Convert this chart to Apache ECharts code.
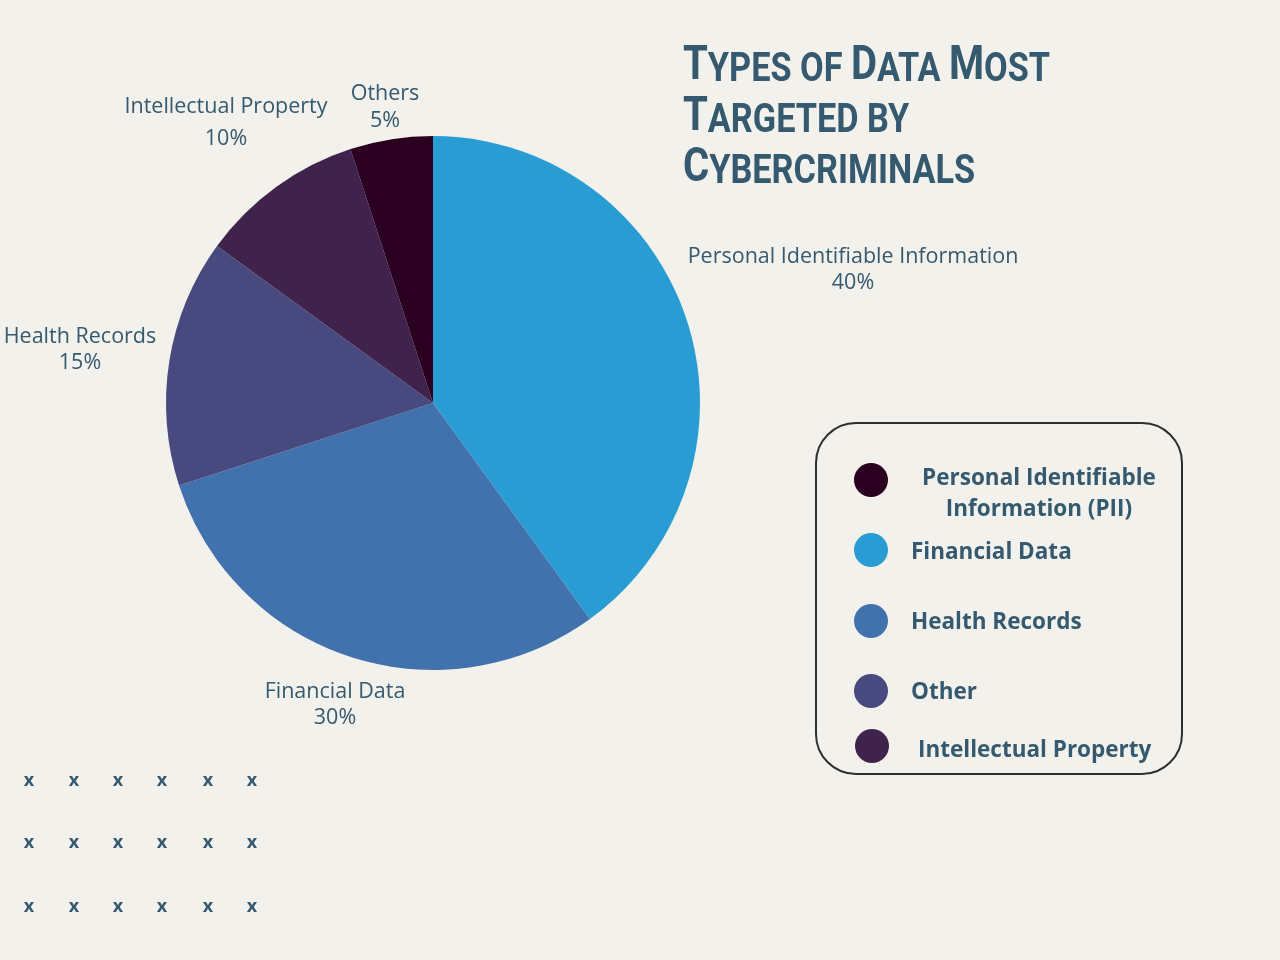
<!DOCTYPE html>
<html>
<head>
<meta charset="utf-8">
<script src="https://cdn.jsdelivr.net/npm/echarts@6/dist/echarts.min.js"></script>
<style>
html,body{margin:0;padding:0;background:#f2f1ec;}
#c{width:1280px;height:960px;}
</style>
</head>
<body>
<div id="c"></div>
<script>
// ---- data ----
const categories = ['Personal Identifiable Information', 'Financial Data', 'Health Records', 'Intellectual Property', 'Others'];
const values = [40, 30, 15, 10, 5];
const sliceColors = ['#299dd3', '#4272ad', '#484a7f', '#40234c', '#2b0020'];
const legendLabels = ['Personal Identifiable\nInformation (PII)', 'Financial Data', 'Health Records', 'Other', 'Intellectual Property'];
const legendColors = ['#2b0020', '#299dd3', '#4272ad', '#484a7f', '#40234c'];
const titleLines = ['Types of Data Most', 'Targeted by', 'Cybercriminals'];

// ---- layout ----
const labelPos = [[853, 270], [335, 705], [80, 350], [226, 123], [385, 107]];
const labelLH = [26, 26, 26, 32, 27];
const legendRows = [
  {cx: 871, cy: 480, tx: 1039, ty: 494, align: 'center'},
  {cx: 871, cy: 550, tx: 911, ty: 553, align: 'left'},
  {cx: 871, cy: 621, tx: 911, ty: 623, align: 'left'},
  {cx: 871, cy: 691, tx: 911, ty: 693, align: 'left'},
  {cx: 872, cy: 746, tx: 918, ty: 751, align: 'left'}
];
const textColor = '#35596e';

// title as pseudo small-caps rich text
const titleFont = 'Roboto';
const bigSize = 48, smallSize = 41;
function segments(line) {
  const segs = [];
  line.split(' ').forEach((w, i) => {
    if (i > 0) segs.push(['s', ' ']);
    const first = w[0];
    if (first === first.toUpperCase()) {
      segs.push(['b', first]);
      if (w.length > 1) segs.push(['s', w.slice(1).toUpperCase()]);
    } else {
      segs.push(['s', w.toUpperCase()]);
    }
  });
  return segs;
}
const mctx = document.createElement('canvas').getContext('2d');
function segWidth(segs) {
  let w = 0;
  segs.forEach(([k, t]) => {
    mctx.font = 'bold ' + (k === 'b' ? bigSize : smallSize) + 'px ' + titleFont;
    w += mctx.measureText(t).width;
  });
  return w;
}
const firstSegs = segments(titleLines[0]);
const titleScale = 367 / segWidth(firstSegs);
const graphics = [];
const baselines = [82, 133, 184];
titleLines.forEach((ln, i) => {
  const segs = segments(ln);
  graphics.push({
    type: 'text', x: 683, y: baselines[i] + 9, scaleX: titleScale, originX: 0,
    style: {
      text: segs.map(([k, t]) => '{' + k + '|' + t + '}').join(''),
      verticalAlign: 'bottom',
      rich: {
        b: {fontFamily: titleFont, fontWeight: 'bold', fontSize: bigSize, fill: textColor, verticalAlign: 'bottom', lineHeight: bigSize},
        s: {fontFamily: titleFont, fontWeight: 'bold', fontSize: smallSize, fill: textColor, verticalAlign: 'bottom', lineHeight: smallSize}
      }
    }
  });
});

// legend box
graphics.push({
  type: 'rect', shape: {x: 816, y: 423, width: 366, height: 351, r: 40},
  style: {fill: 'none', stroke: '#2f2f2f', lineWidth: 2}
});
legendLabels.forEach((lab, i) => {
  const r = legendRows[i];
  graphics.push({type: 'circle', shape: {cx: r.cx, cy: r.cy, r: 17}, style: {fill: legendColors[i]}});
  graphics.push({
    type: 'text', x: r.tx, y: r.ty,
    style: {text: lab, fontFamily: 'Open Sans', fontWeight: 'bold', fontSize: 22.5, lineHeight: 31,
      fill: textColor, align: r.align, verticalAlign: 'middle'}
  });
});

// x marks
const xCols = [29, 74, 118, 162, 208, 252];
const xRows = [781, 843, 907];
xRows.forEach(y => xCols.forEach(x => {
  graphics.push({type: 'text', x: x, y: y,
    style: {text: 'x', fontFamily: 'Open Sans', fontWeight: 'bold', fontSize: 18, fill: textColor, align: 'center', verticalAlign: 'middle'}});
}));

const chart = echarts.init(document.getElementById('c'));
chart.setOption({
  backgroundColor: '#f2f1ec',
  animation: false,
  graphic: graphics,
  series: [{
    type: 'pie',
    center: [433, 403],
    radius: [0, 267],
    startAngle: 90,
    clockwise: true,
    data: categories.map((c, i) => ({name: c, value: values[i], itemStyle: {color: sliceColors[i]}, label: {lineHeight: labelLH[i]}})),
    label: {
      show: true,
      formatter: p => p.name + '\n' + p.value + '%',
      fontFamily: 'Open Sans', fontSize: 21.5, color: textColor, align: 'center',
      overflow: 'none'
    },
    labelLine: {show: false},
    labelLayout: p => ({x: labelPos[p.dataIndex][0], y: labelPos[p.dataIndex][1], align: 'center', verticalAlign: 'middle', width: 600})
  }]
});
</script>
</body>
</html>
